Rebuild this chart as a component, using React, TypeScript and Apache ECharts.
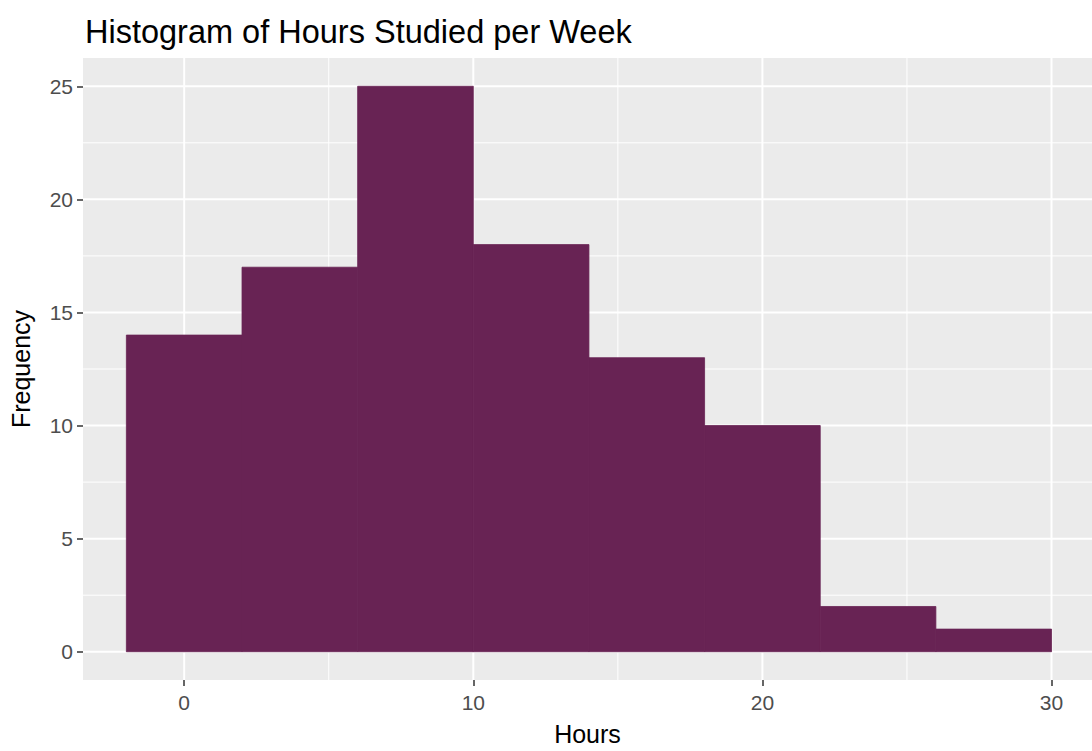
import React, { useEffect, useRef } from "react";
import * as echarts from "echarts";

const titleText = "Histogram of Hours Studied per Week";
const xName = "Hours";
const yName = "Frequency";
const binStarts = [-2, 2, 6, 10, 14, 18, 22, 26];
const binWidth = 4;
const counts = [14, 17, 25, 18, 13, 10, 2, 1];
const xTicks = [0, 10, 20, 30];
const yTicks = [0, 5, 10, 15, 20, 25];
const xMinor = [5, 15, 25];
const yMinor = [2.5, 7.5, 12.5, 17.5, 22.5];

const FONT = "Liberation Sans, Arial, sans-serif";
const BAR_COLOR = "#682354";

export default function App() {
  const ref = useRef<HTMLDivElement>(null);
  useEffect(() => {
    if (!ref.current) return;
    const chart = echarts.init(ref.current, null, { renderer: "svg" });
    const gridData: any[] = [
      ...xTicks.map((v) => ["x", v, 1]),
      ...xMinor.map((v) => ["x", v, 0]),
      ...yTicks.map((v) => ["y", v, 1]),
      ...yMinor.map((v) => ["y", v, 0]),
    ];
    const barData = binStarts.map((s, i) => [s, s + binWidth, counts[i]]);
    chart.setOption({
      animation: false,
      backgroundColor: "#ffffff",
      title: {
        text: titleText,
        left: 80,
        top: 10,
        textStyle: { fontFamily: FONT, fontSize: 32.5, fontWeight: "normal", color: "#000000" },
      },
      grid: { left: 82, right: 0, top: 58, bottom: 61, show: true, backgroundColor: "#EBEBEB", borderWidth: 0 },
      xAxis: {
        type: "value",
        min: -3.5,
        max: 31.4,
        name: xName,
        nameLocation: "middle",
        nameGap: 41,
        nameTextStyle: { fontFamily: FONT, fontSize: 25, color: "#000000" },
        axisLine: { show: false, onZero: false },
        axisTick: { show: true, length: 6, customValues: xTicks, lineStyle: { color: "#333333", width: 1.5 } },
        axisLabel: { customValues: xTicks, margin: 12, fontFamily: FONT, fontSize: 21, color: "#4D4D4D" },
        splitLine: { show: false },
      },
      yAxis: {
        type: "value",
        min: -1.25,
        max: 26.25,
        name: yName,
        nameLocation: "middle",
        nameGap: 50,
        nameRotate: 90,
        nameTextStyle: { fontFamily: FONT, fontSize: 25, color: "#000000" },
        axisLine: { show: false, onZero: false },
        axisTick: { show: true, length: 6, customValues: yTicks, lineStyle: { color: "#333333", width: 1.5 } },
        axisLabel: { customValues: yTicks, margin: 10, fontFamily: FONT, fontSize: 21, color: "#4D4D4D" },
        splitLine: { show: false },
      },
      series: [
        {
          type: "custom",
          z: 1,
          silent: true,
          data: gridData,
          encode: { x: 1 },
          renderItem: (params: any, api: any) => {
            const kind = gridData[params.dataIndex][0];
            const v = api.value(1);
            const major = api.value(2) === 1;
            const cs = params.coordSys;
            const w = major ? 2 : 1;
            if (kind === "x") {
              const px = api.coord([v, 0])[0];
              return {
                type: "line",
                shape: { x1: px, y1: cs.y, x2: px, y2: cs.y + cs.height },
                style: { stroke: "#FFFFFF", lineWidth: w },
              };
            }
            const py = api.coord([0, v])[1];
            return {
              type: "line",
              shape: { x1: cs.x, y1: py, x2: cs.x + cs.width, y2: py },
              style: { stroke: "#FFFFFF", lineWidth: w },
            };
          },
        },
        {
          type: "custom",
          z: 2,
          data: barData,
          encode: { x: [0, 1], y: 2 },
          renderItem: (params: any, api: any) => {
            const p0 = api.coord([api.value(0), api.value(2)]);
            const p1 = api.coord([api.value(1), 0]);
            return {
              type: "rect",
              shape: { x: p0[0], y: p0[1], width: p1[0] - p0[0], height: p1[1] - p0[1] },
              style: { fill: BAR_COLOR, stroke: BAR_COLOR, lineWidth: 0.8 },
            };
          },
        },
      ],
    });
    return () => chart.dispose();
  }, []);
  return (
    <div
      ref={ref}
      style={{ position: "fixed", left: 0, top: 0, width: 1092, height: 751 }}
    />
  );
}
